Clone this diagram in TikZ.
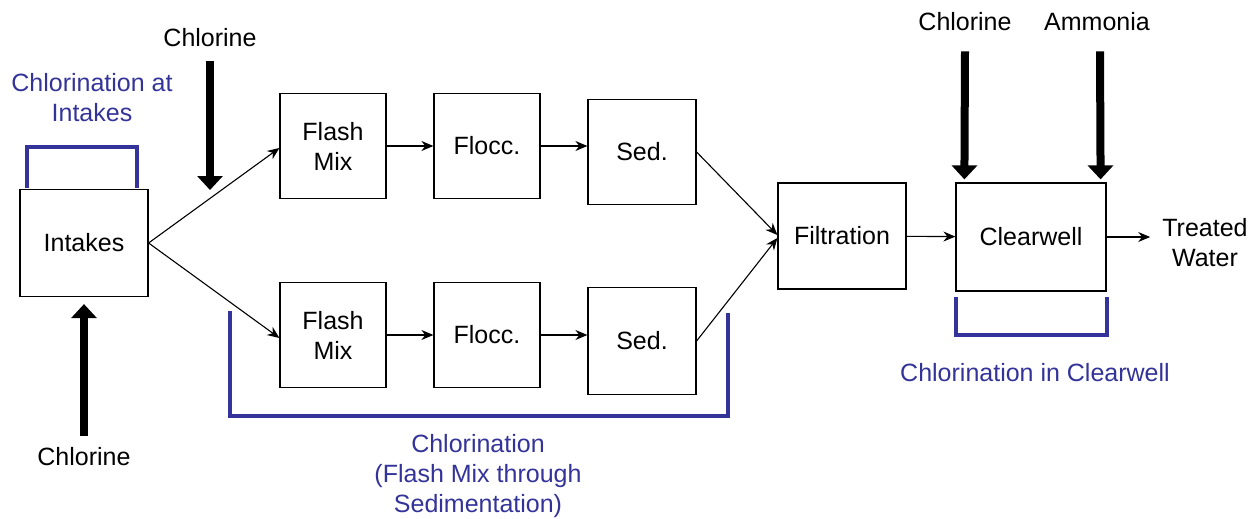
\documentclass[tikz,border=0pt]{standalone}
\usepackage{fontspec}
\setmainfont{Liberation Sans}
\usetikzlibrary{arrows.meta, calc}

\definecolor{chlorblue}{RGB}{51,51,153}

\begin{document}
\begin{tikzpicture}[x=1pt, y=-1pt, >=Stealth,
  every node/.style={font=\fontsize{25}{30}\selectfont, align=center, inner sep=0pt},
  box/.style={draw, line width=1.2pt, minimum width=106pt, minimum height=105pt},
  flow/.style={->, line width=1.1pt, >={Stealth[length=12pt, width=10pt]}},
  feed/.style={line width=8pt, -{Triangle[length=14pt, width=25pt]}},
  bracket/.style={draw=chlorblue, line width=4pt},
  note/.style={text=chlorblue}]
  \useasboundingbox (0,0) rectangle (1256,519);

  % process boxes
  \node[box, minimum width=128pt, minimum height=107pt] (intake) at (84,243) {Intakes};
  \node[box] (fmA) at (333,146) {Flash\\Mix};
  \node[box] (flA) at (487,146) {Flocc.};
  \node[box, minimum width=108pt] (sdA) at (642,152) {Sed.};
  \node[box] (fmB) at (333,335) {Flash\\Mix};
  \node[box] (flB) at (487,335) {Flocc.};
  \node[box, minimum width=108pt, minimum height=107pt] (sdB) at (642,341) {Sed.};
  \node[box, minimum width=128pt, minimum height=106pt] (filt) at (842,236) {Filtration};
  \node[box, minimum width=150pt, minimum height=108pt] (clear) at (1031,237) {Clearwell};
  \node (treated) at (1205,243) {Treated\\Water};

  % flow lines
  \draw[flow] (intake.east) -- (fmA.west |- 0,148);
  \draw[flow] (intake.east) -- (fmB.west |- 0,338);
  \draw[flow] (fmA) -- (flA);
  \draw[flow] (flA) -- (sdA.west |- flA);
  \draw[flow] (fmB) -- (flB);
  \draw[flow] (flB) -- (sdB.west |- flB);
  \draw[flow] (sdA.east) -- ($(filt.west)+(0,-1)$);
  \draw[flow] (sdB.east) -- ($(filt.west)+(0,2)$);
  \draw[flow] (filt) -- (clear);
  \draw[flow] (clear.east) -- ($(treated.west |- clear.east)+(-12,0)$);

  % chemical feeds
  \node (clTop) at (210,38) {Chlorine};
  \node (clLow) at (84,457) {Chlorine};
  \node (clWell) at (965,22) {Chlorine};
  \node (nh3) at (1097,22) {Ammonia};
  \coordinate (clTopEnd) at (210,190);
  \draw[feed] ($(clTop.south)+(0,14)$) -- (clTopEnd);
  \draw[feed] ($(clLow.north)+(0,-12)$) -- ($(intake.south)+(0,7)$);
  \draw[feed] ($(clWell.south)+(0,20)$) -- ($(clear.north west)+(9,-3)$);
  \draw[feed] ($(nh3.south)+(3,20)$) -- ($(clear.north east)+(-6,-3)$);

  % chlorination zones
  \draw[bracket] (27,188) -- (27,147) -- (137,147) -- (137,188);
  \node[note] (zoneIntake) at (92,98) {Chlorination at\\Intakes};
  \draw[bracket] (230,311) -- (230,416) -- (728,416) -- (728,313);
  \node[note] (zoneBasin) at (478,476) {Chlorination\\(Flash Mix through\\Sedimentation)};
  \draw[bracket] (956,297) -- (956,335) -- (1107,335) -- (1107,297);
  \node[note] (zoneWell) at (1035,373) {Chlorination in Clearwell};
\end{tikzpicture}
\end{document}
